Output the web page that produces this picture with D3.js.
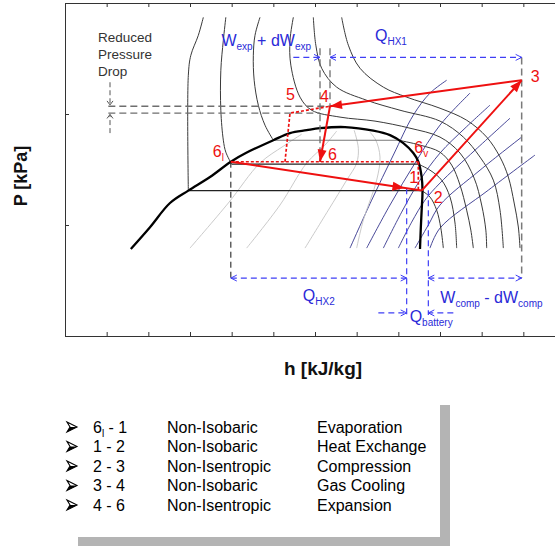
<!DOCTYPE html>
<html>
<head>
<meta charset="utf-8">
<script src="https://cdn.jsdelivr.net/npm/d3@7"></script>
<style>
  body { margin: 0; background: #fff; }
  svg { display: block; font-family: "Liberation Sans", Arial, sans-serif; }
  text { white-space: pre; }
</style>
</head>
<body>
<svg id="chart" width="555" height="546"></svg>
<script>
// ---------- axes (h in kJ/kg, P in kPa) ----------
const hTicks = d3.range(100, 701, 50);
const pTicks = [0, 5000, 10000, 15000];

// ---------- saturation dome, [h, P] ----------
const dome = [[179,3920],[202,4900],[226,5990],[248,6550],[274,7160],[299,7850],[317,8240],
  [350,8820],[370,9140],[390,9270],[406,9360],[436,9410],[470,9250],[490,9050],[506,8690],
  [518,8240],[524,7850],[528,7160],[529,6550],[528,5670],[527,4900],[526,3920]];

// isobars inside the dome
const isobarLow  = [[248,6550],[528,6550]];
const isobarMid  = [[300,7740],[524,7740]];
const isobarHigh = [[350,8820],[500,8820]];

// isotherms: liquid branches
const liquidA = [[266,14355],[260,13545],[251,12645],[248,11745],[248,6550]];
const liquidB = [[293,14355],[290,13320],[287,11970],[287,10170],[290,8820],[293,8280],[300,7740]];
const liquidC = [[334,14355],[328,13545],[326,12645],[327,11520],[332,10395],[340,9495],[350,8820]];
// isotherms: vapour branches
const vapourA = [[528,6550],[538,6260],[546,5670],[551,4860],[554,3960]];
const vapourB = [[524,7740],[538,7470],[552,7020],[562,6260],[568,5090],[570,3960]];
const vapourC = [[500,8820],[526,8600],[550,8280],[564,7700],[574,6800],[582,5670],[587,4770],[590,3960]];
// supercritical isotherms
const superD = [[374,14355],[370,13320],[371,12200],[382,10760],[396,10170],[430,9860],[472,9680],
  [514,9360],[550,8960],[574,8240],[591,7110],[600,5900],[605,4770],[606,3960]];
const superE = [[398,14355],[401,13100],[408,12060],[426,11210],[462,10620],[502,10170],[550,9680],
  [578,8960],[598,8060],[614,7020],[622,5670],[626,3960]];
const superF = [[432,14355],[440,13100],[454,12060],[482,11210],[510,10760],[550,10260],[582,9720],
  [606,8960],[622,8060],[632,7160],[639,5990],[644,4910],[646,3960]];

// vapour-quality lines
const quality1 = [[250,3960],[296,5990],[334,7790],[362,8550],[384,9090]];
const quality2 = [[318,3960],[358,5900],[390,7790],[412,8600],[426,9230]];
const quality3 = [[388,3960],[416,5670],[438,7020],[450,7790],[452,8460],[447,9270]];
const quality4 = [[450,3960],[458,5220],[474,7020],[478,8060],[473,8820],[466,9180]];

// isentropes
const isentrope1 = [[442,3960],[468,6120],[494,8150],[518,9950],[538,10940],[558,11520]];
const isentrope2 = [[462,3960],[490,5900],[520,7790],[550,9500],[586,10940]];
const isentrope3 = [[482,3960],[504,5580],[526,7020],[550,8240],[580,9360],[610,10400]];
const isentrope4 = [[500,3960],[516,5130],[532,6120],[550,6890],[592,8370],[634,9810]];
const isentrope5 = [[520,3960],[536,5000],[550,5900],[598,7470],[648,8960]];
const isentrope6 = [[538,3960],[550,4860],[608,6570],[664,8150]];

// ---------- cycle state points ----------
const h6l = 299, h6v = 524, h1 = 524, h2 = 528, h3 = 648, h4 = 418, h5 = 370, h5e = 364, h6 = 406;
const pEvap = 7850, p1 = 6620, p2 = 6550, p3 = 11520, p4 = 10350, p5 = 10040;

// ---------- annotation levels ----------
const pGuideTop = 12960, pArrowTop = 12550, pArrowMid = 2610, pArrowLow = 1040;
const hBattL = 510, hBattR = 536, pBattL = 6660, pBattR = 6570, pBattEnd = 945;
const hWexpStart = 374, hBattInL = 476, hBattInR = 566;
const hDropLeft = 152, hDrop = 154, pDropAbove = 11430, pDropBelow = 9140;

// ---------- legend ----------
const legendFrom = ["6l", "1", "2", "3", "4"];
const legendTo = ["1", "2", "3", "4", "6"];
const legendKind = ["Non-Isobaric", "Non-Isobaric", "Non-Isentropic", "Non-Isobaric", "Non-Isentropic"];
const legendProcess = ["Evaporation", "Heat Exchange", "Compression", "Gas Cooling", "Expansion"];

// ---------- drawing ----------
const RED = "#ee1010", BLUE_LINE = "#3f3ff5", BLUE_TEXT = "#2a2ad8", NAVY = "#34348c";
const svg = d3.select("#chart");
const x = d3.scaleLinear().domain([100, 700]).range([65, 565]);
const y = d3.scaleLinear().domain([0, 15000]).range([336, 3]);
const straight = d3.line().x(d => x(d[0])).y(d => y(d[1]));
const smooth = d3.line().x(d => x(d[0])).y(d => y(d[1])).curve(d3.curveCatmullRom.alpha(0.5));

function styleAxis(g) {
  g.selectAll("path, line").attr("stroke", "#333").attr("stroke-width", 1);
}
svg.append("g").attr("transform", `translate(0,${y(0)})`)
  .call(d3.axisBottom(x).tickValues(hTicks).tickSize(-4).tickSizeOuter(0).tickFormat(""))
  .call(styleAxis);
svg.append("g").attr("transform", `translate(0,${y(15000)})`)
  .call(d3.axisTop(x).tickValues(hTicks).tickSize(-4).tickSizeOuter(0).tickFormat(""))
  .call(styleAxis);
svg.append("g").attr("transform", `translate(${x(100)},0)`)
  .call(d3.axisLeft(y).tickValues(pTicks).tickSize(-4).tickSizeOuter(0).tickFormat(""))
  .call(styleAxis);

const field = svg.append("g").attr("fill", "none");

// isentropes
[isentrope1, isentrope2, isentrope3, isentrope4, isentrope5, isentrope6].forEach(s =>
  field.append("path").attr("d", smooth(s)).attr("stroke", NAVY).attr("stroke-width", 0.9));

// quality lines
[quality1, quality2, quality3, quality4].forEach(q =>
  field.append("path").attr("d", smooth(q)).attr("stroke", "#c4c4c4").attr("stroke-width", 0.9));

// isotherms
[liquidA, liquidB, liquidC, vapourA, vapourB, vapourC, superD, superE, superF].forEach(t =>
  field.append("path").attr("d", smooth(t)).attr("stroke", "#3a3a3a").attr("stroke-width", 1));

// isobars
field.append("path").attr("d", straight(isobarLow)).attr("stroke", "#222").attr("stroke-width", 1.1);
field.append("path").attr("d", straight(isobarMid)).attr("stroke", "#222").attr("stroke-width", 1.1);
field.append("path").attr("d", straight(isobarHigh)).attr("stroke", "#777").attr("stroke-width", 1.1);

// saturation dome
field.append("path").attr("d", smooth(dome)).attr("stroke", "#000").attr("stroke-width", 2.3);

// ---------- guide lines ----------
const guides = svg.append("g").attr("fill", "none");
function dashed(pts, color, width, dash) {
  guides.append("path").attr("d", straight(pts)).attr("stroke", color)
    .attr("stroke-width", width).attr("stroke-dasharray", dash);
}
dashed([[hDropLeft, p4], [h4, p4]], "#6e6e6e", 1.3, "7,4");
dashed([[hDropLeft, p5], [h6, p5]], "#6e6e6e", 1.3, "7,4");
dashed([[h6, pGuideTop], [h6, pEvap]], "#6e6e6e", 1.3, "7,4");
dashed([[h4, pGuideTop], [h4, p4]], "#6e6e6e", 1.3, "7,4");
dashed([[h3, pArrowTop], [h3, pArrowMid]], "#7a7a7a", 1.5, "7,4");
dashed([[h6l, pEvap], [h6l, pArrowMid]], "#111", 1, "6,4");
dashed([[hDrop, pDropAbove], [hDrop, p4 + 60]], "#555", 1, "5,3");
dashed([[hDrop, pDropBelow], [hDrop, p5 - 60]], "#555", 1, "5,3");

// open chevron arrowhead at tip, pointing away from "from"
function chevron(g, tip, from, color, len, half) {
  const tx = x(tip[0]), ty = y(tip[1]), fx = x(from[0]), fy = y(from[1]);
  const a = Math.atan2(ty - fy, tx - fx);
  const p1 = [tx - len * Math.cos(a) + half * Math.sin(a), ty - len * Math.sin(a) - half * Math.cos(a)];
  const p2 = [tx - len * Math.cos(a) - half * Math.sin(a), ty - len * Math.sin(a) + half * Math.cos(a)];
  g.append("path").attr("d", `M${p1}L${tx},${ty}L${p2}`).attr("stroke", color)
    .attr("stroke-width", 1).attr("fill", "none");
}
chevron(guides, [hDrop, p4 + 60], [hDrop, pDropAbove], "#555", 4, 3);
chevron(guides, [hDrop, p5 - 60], [hDrop, pDropBelow], "#555", 4, 3);

// blue energy arrows
function blueArrow(a, b, headA, headB) {
  dashed([a, b], BLUE_LINE, 1.2, "6,4");
  if (headA) chevron(guides, a, b, BLUE_LINE, 6, 3);
  if (headB) chevron(guides, b, a, BLUE_LINE, 6, 3);
}
dashed([[hBattL, pBattL], [hBattL, pBattEnd]], BLUE_LINE, 1.2, "6,4");
dashed([[hBattR, pBattR], [hBattR, pBattEnd]], BLUE_LINE, 1.2, "6,4");
blueArrow([hWexpStart, pArrowTop], [h6, pArrowTop], false, true);
blueArrow([h4, pArrowTop], [h3, pArrowTop], true, true);
blueArrow([h6l, pArrowMid], [hBattL, pArrowMid], true, true);
blueArrow([hBattR, pArrowMid], [h3, pArrowMid], true, true);
blueArrow([hBattInL, pArrowLow], [hBattL, pArrowLow], false, true);
blueArrow([hBattInR, pArrowLow], [hBattR, pArrowLow], false, true);

// ---------- refrigeration cycle ----------
const cycle = svg.append("g").attr("fill", "none");
function redLine(pts, dotted) {
  cycle.append("path").attr("d", straight(pts)).attr("stroke", RED)
    .attr("stroke-width", dotted ? 1.7 : 2).attr("stroke-dasharray", dotted ? "3,2" : null);
}
function redHead(a, b, t) {
  const ax = x(a[0]), ay = y(a[1]), bx = x(b[0]), by = y(b[1]);
  const tx = ax + (bx - ax) * t, ty = ay + (by - ay) * t;
  const ang = Math.atan2(by - ay, bx - ax), L = 12, W = 4.5;
  const p1 = [tx - L * Math.cos(ang) + W * Math.sin(ang), ty - L * Math.sin(ang) - W * Math.cos(ang)];
  const p2 = [tx - L * Math.cos(ang) - W * Math.sin(ang), ty - L * Math.sin(ang) + W * Math.cos(ang)];
  cycle.append("path").attr("d", `M${tx},${ty}L${p1}L${p2}Z`).attr("fill", RED);
}
redLine([[h6l, pEvap], [h6v, pEvap]], true);
redLine([[h6v, pEvap], [h1, p1]], true);
redLine([[h5e, pEvap], [h5, p5], [h4, p4]], true);
redLine([[h6l, pEvap], [h2, p2]], false);
redHead([h6l, pEvap], [h2, p2], 0.91);
redLine([[h2, p2], [h3, p3]], false);
redHead([h2, p2], [h3, p3], 1);
redLine([[h3, p3], [h4, p4]], false);
redHead([h3, p3], [h4, p4], 1);
redLine([[h4, p4], [h6, pEvap]], false);
redHead([h4, p4], [h6, pEvap], 1);

// ---------- text ----------
function richText(g, px, py, parts, opts) {
  const t = g.append("text").attr("x", px).attr("y", py)
    .attr("font-size", opts.size).attr("fill", opts.color)
    .attr("text-anchor", opts.anchor || "start");
  let shifted = false;
  parts.forEach(([s, sub]) => {
    const ts = t.append("tspan").text(s);
    if (sub && !shifted) { ts.attr("dy", 4).attr("font-size", opts.subSize); shifted = true; }
    else if (sub) { ts.attr("font-size", opts.subSize); }
    else if (!sub && shifted) { ts.attr("dy", -4); shifted = false; }
  });
  return t;
}
const labels = svg.append("g");
const redOpts = { size: 16, subSize: 10, color: RED };
richText(labels, x(h3) + 9, y(p3) + 2, [["3"]], redOpts);
richText(labels, x(h2) + 12, y(p2) + 12, [["2"]], redOpts);
richText(labels, x(h1) - 9, y(p1) - 6, [["1"]], redOpts);
richText(labels, x(h6v) - 4, y(pEvap) - 8.5, [["6"], ["v", 1]], redOpts);
richText(labels, x(h6l) - 18, y(pEvap) - 4.5, [["6"], ["l", 1]], redOpts);
richText(labels, x(h5) - 4, y(p5) - 13, [["5"]], redOpts);
richText(labels, x(h4) - 10, y(p4) - 4, [["4"]], redOpts);
richText(labels, x(h6) + 8, y(pEvap) - 1.5, [["6"]], redOpts);

const blueOpts = { size: 16, subSize: 10, color: BLUE_TEXT };
richText(labels, x(h6) - 9, y(pArrowTop) - 11, [["W"], ["exp", 1], [" + dW"], ["exp", 1]],
  Object.assign({ anchor: "end" }, blueOpts));
richText(labels, x(h4) + 45, y(pArrowTop) - 16, [["Q"], ["HX1", 1]], blueOpts);
richText(labels, (x(h6l) + x(hBattL)) / 2, y(pArrowMid) + 23, [["Q"], ["HX2", 1]],
  Object.assign({ anchor: "middle" }, blueOpts));
richText(labels, x(hBattR) + 12, y(pArrowMid) + 25, [["W"], ["comp", 1], [" - dW"], ["comp", 1]], blueOpts);
richText(labels, x(hBattL) + 3, y(pArrowLow) + 9, [["Q"], ["battery", 1]], blueOpts);

["Reduced", "Pressure", "Drop"].forEach((s, i) =>
  labels.append("text").attr("x", x(hDrop) - 12).attr("y", 42 + i * 17)
    .attr("font-size", 13.5).attr("fill", "#333").text(s));

// axis titles
svg.append("text").attr("transform", "translate(27,176) rotate(-90)")
  .attr("text-anchor", "middle").attr("font-size", 18).attr("font-weight", "bold")
  .attr("fill", "#111").text("P [kPa]");
svg.append("text").attr("x", 323).attr("y", 375)
  .attr("text-anchor", "middle").attr("font-size", 19).attr("font-weight", "bold")
  .attr("fill", "#111").text("h [kJ/kg]");

// ---------- legend ----------
const legend = svg.append("g");
legend.append("rect").attr("x", 440).attr("y", 405).attr("width", 10).attr("height", 141).attr("fill", "#b4b4b4");
legend.append("rect").attr("x", 78).attr("y", 537).attr("width", 372).attr("height", 9).attr("fill", "#b4b4b4");
legendFrom.forEach((from, i) => {
  const by = 432.5 + i * 19.5;
  const row = legend.append("g").attr("transform", `translate(0,${by})`);
  row.append("path").attr("d", "M67,-10.5L77,-5.5L67,-0.5L70,-5.5Z")
    .attr("fill", "#fff").attr("stroke", "#000").attr("stroke-width", 1.1);
  row.append("path").attr("d", "M70,-5.5L77,-5.5L67,-0.5Z").attr("fill", "#000");
  const parts = from.length > 1
    ? [[from[0]], [from.slice(1), 1], [" - " + legendTo[i]]]
    : [[from + " - " + legendTo[i]]];
  richText(row, 93, 0, parts, { size: 16, subSize: 10, color: "#000" });
  row.append("text").attr("x", 167).attr("y", 0).attr("font-size", 16).text(legendKind[i]);
  row.append("text").attr("x", 317).attr("y", 0).attr("font-size", 16).text(legendProcess[i]);
});
</script>
</body>
</html>
